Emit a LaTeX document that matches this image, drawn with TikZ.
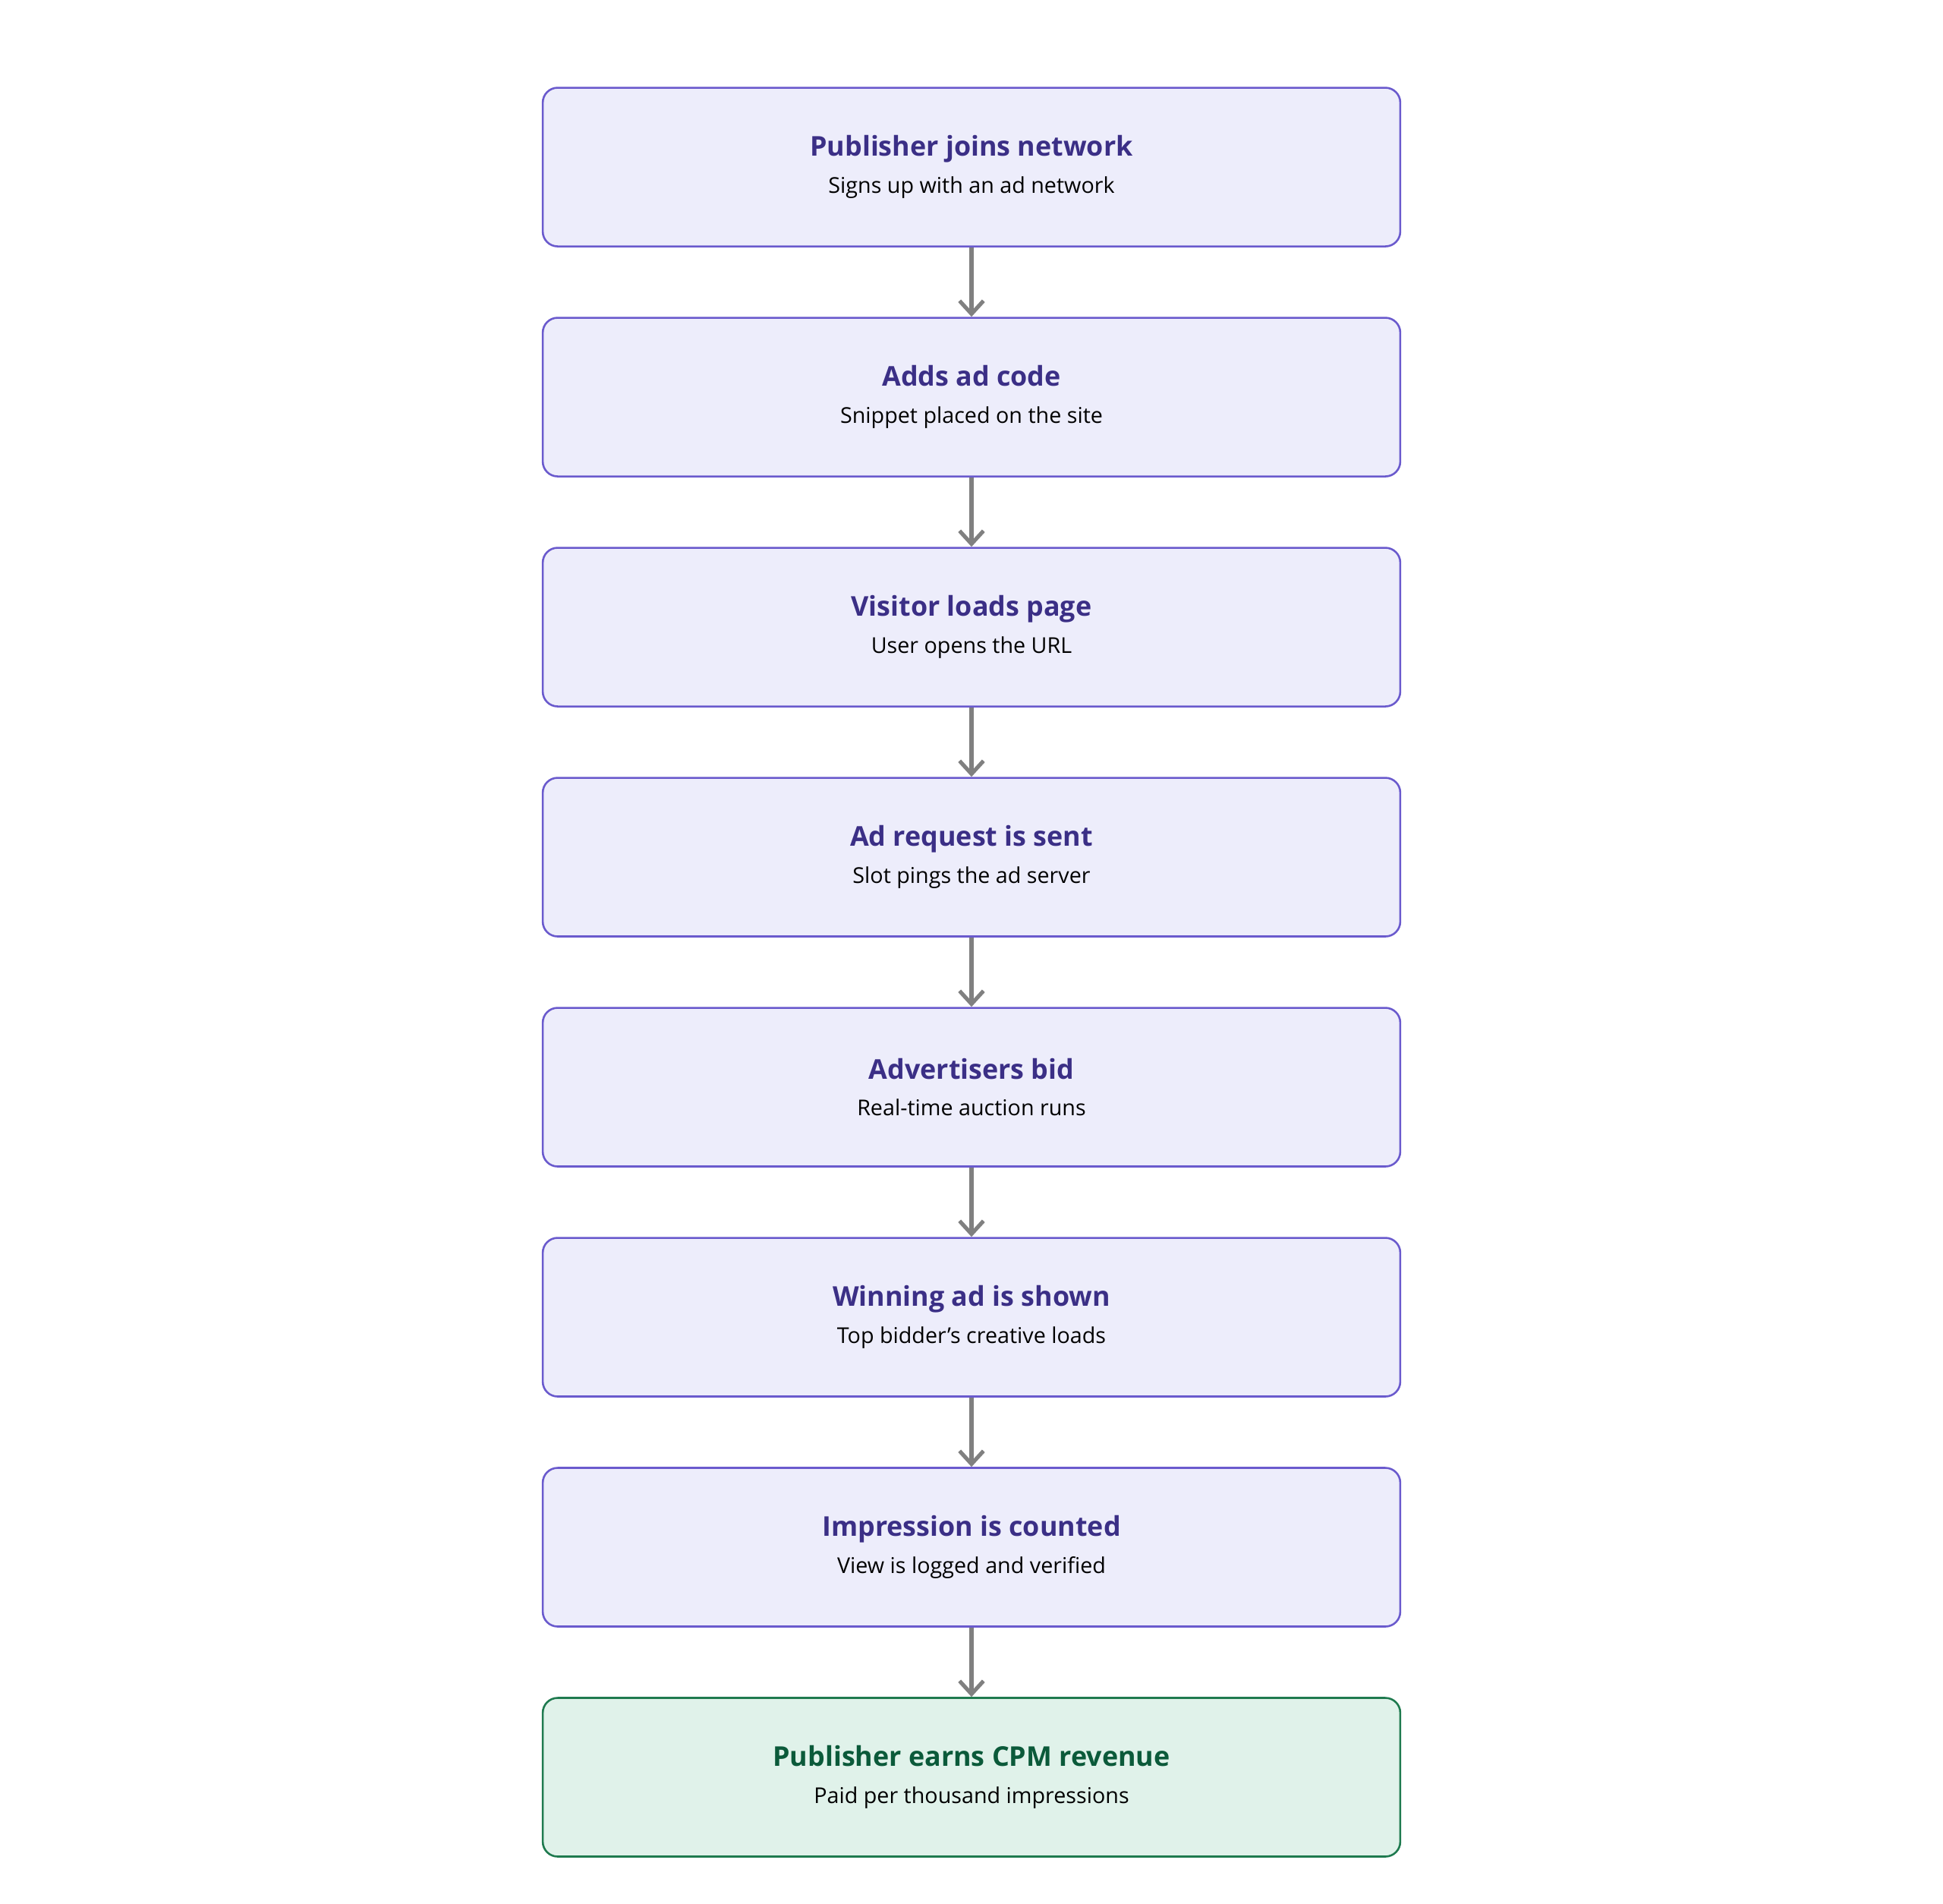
\documentclass[tikz,border=0pt]{standalone}
\usepackage{fontspec}
\setmainfont{Open Sans}
\usetikzlibrary{positioning,arrows.meta}
\definecolor{stepfill}{HTML}{EDEDFB}
\definecolor{stepline}{HTML}{6A5ACD}
\definecolor{steptitle}{HTML}{3B2F86}
\definecolor{stepsub}{HTML}{5A4BC4}
\definecolor{endfill}{HTML}{E0F2EA}
\definecolor{endline}{HTML}{1F7A4F}
\definecolor{endtitle}{HTML}{0B5A3A}
\definecolor{endsub}{HTML}{17804F}
\definecolor{flowgray}{HTML}{808080}
\newcommand{\steptext}[3]{{\fontsize{12.5}{15}\selectfont\bfseries\color{#1}#2}\\[5pt]{\fontsize{11}{13}\selectfont\color{#3}}}

\begin{document}
\begin{tikzpicture}[
    node distance=1.12cm,
    stepbox/.style={draw=stepline, fill=stepfill, rounded corners=0.24cm, line width=0.9pt,
                 minimum width=13.84cm, minimum height=2.56cm, align=center, inner sep=0pt},
    finalbox/.style={stepbox, draw=endline, fill=endfill},
    flow/.style={-{Straight Barb[length=6pt,width=11pt]}, draw=flowgray, line width=1.8pt}
  ]
  \useasboundingbox (0,0) rectangle (31.36,-30.72);
  \node[stepbox, anchor=north] (join) at (15.68,-1.4)
    {\steptext{steptitle}{Publisher joins network}{stepsub}Signs up with an ad network};
  \node[stepbox, below=of join] (code)
    {\steptext{steptitle}{Adds ad code}{stepsub}Snippet placed on the site};
  \node[stepbox, below=of code] (visit)
    {\steptext{steptitle}{Visitor loads page}{stepsub}User opens the URL};
  \node[stepbox, below=of visit] (request)
    {\steptext{steptitle}{Ad request is sent}{stepsub}Slot pings the ad server};
  \node[stepbox, below=of request] (bid)
    {\steptext{steptitle}{Advertisers bid}{stepsub}Real-time auction runs};
  \node[stepbox, below=of bid] (shown)
    {\steptext{steptitle}{Winning ad is shown}{stepsub}Top bidder's creative loads};
  \node[stepbox, below=of shown] (counted)
    {\steptext{steptitle}{Impression is counted}{stepsub}View is logged and verified};
  \node[finalbox, below=of counted] (revenue)
    {\steptext{endtitle}{Publisher earns CPM revenue}{endsub}Paid per thousand impressions};
  % connectors
  \foreach \a/\b in {join/code, code/visit, visit/request, request/bid,
                     bid/shown, shown/counted, counted/revenue}
    \draw[flow] (\a) -- (\b);
\end{tikzpicture}
\end{document}
